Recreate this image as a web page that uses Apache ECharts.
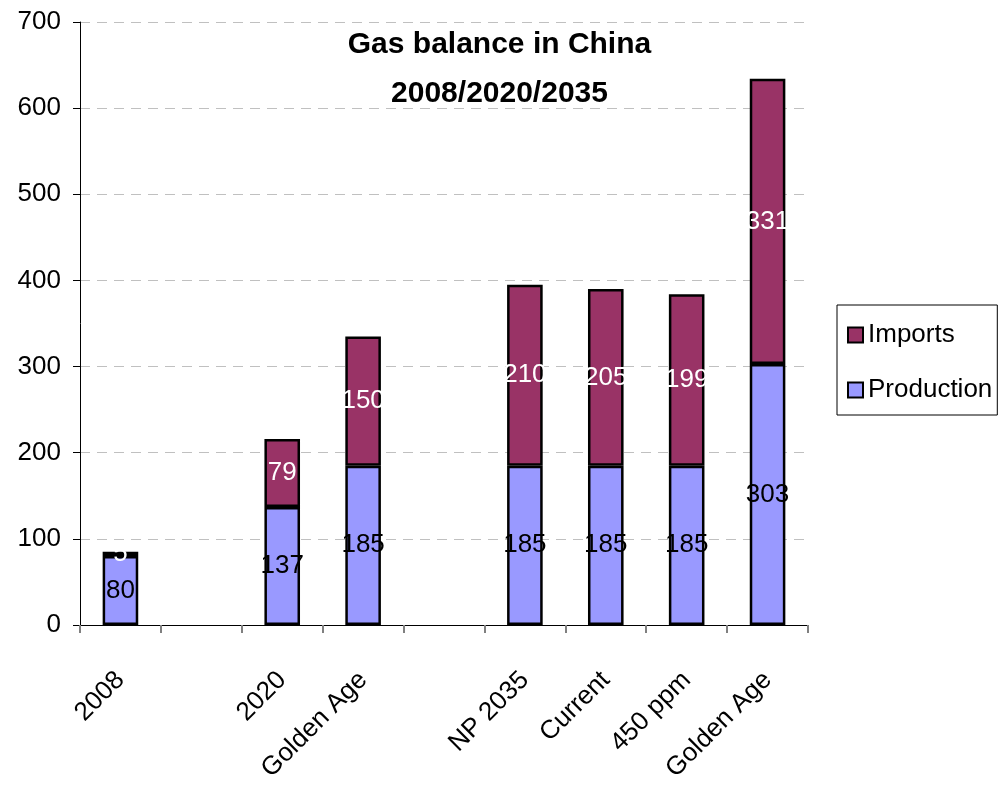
<!DOCTYPE html>
<html>
<head>
<meta charset="utf-8">
<script src="https://cdn.jsdelivr.net/npm/echarts@6/dist/echarts.min.js"></script>
<style>
  html, body { margin: 0; padding: 0; background: #fff; }
  #chart { width: 999px; height: 793px; }
</style>
</head>
<body>
<div id="chart"></div>
<script>
// Gas balance in China (bcm): production and imports by year / scenario
const categories = ['2008', '', '2020', 'Golden Age', '', 'NP 2035', 'Current', '450 ppm', 'Golden Age'];
const production = [80, '-', 137, 185, '-', 185, 185, 185, 303];
const imports = [5, '-', 79, 150, '-', 210, 205, 199, 331];
const yTicks = [0, 100, 200, 300, 400, 500, 600, 700];

const FONT = '"Liberation Sans", Arial, sans-serif';
const FS = 26;

const chart = echarts.init(document.getElementById('chart'), null, { renderer: 'canvas' });

chart.setOption({
  animation: false,
  backgroundColor: '#ffffff',
  title: {
    text: 'Gas balance in China\n2008/2020/2035',
    left: 'center',
    top: 15,
    textStyle: {
      fontFamily: FONT,
      fontWeight: 'bold',
      fontSize: 30,
      lineHeight: 49,
      color: '#000'
    }
  },
  legend: {
    orient: 'vertical',
    left: 837,
    top: 305,
    padding: [17, 5, 12, 10],
    itemGap: 29,
    itemWidth: 15,
    itemHeight: 15,
    icon: 'rect',
    borderColor: '#000',
    borderWidth: 1,
    data: ['Imports', 'Production'],
    textStyle: { fontFamily: FONT, fontSize: FS, color: '#000' }
  },
  grid: {
    left: 80,
    right: 191,
    top: 22,
    bottom: 168,
    containLabel: false
  },
  xAxis: {
    type: 'category',
    data: categories,
    axisLine: { show: true, lineStyle: { color: '#000', width: 1 } },
    axisTick: { show: true, alignWithLabel: false, length: 8, lineStyle: { color: '#808080', width: 2 } },
    axisLabel: {
      interval: 0,
      rotate: 45,
      margin: 51,
      fontFamily: FONT,
      fontSize: FS,
      color: '#000'
    },
    splitLine: { show: false }
  },
  yAxis: {
    type: 'value',
    min: yTicks[0],
    max: yTicks[yTicks.length - 1],
    interval: 100,
    axisLine: { show: true, lineStyle: { color: '#000', width: 1 } },
    axisTick: { show: true, length: 7, lineStyle: { color: '#000', width: 1 } },
    axisLabel: {
      margin: 19,
      fontFamily: FONT,
      fontSize: FS,
      color: '#000'
    },
    splitLine: {
      show: true,
      lineStyle: { color: '#c0c0c0', type: [10, 7], width: 1 }
    }
  },
  series: [
    {
      name: 'Production',
      type: 'bar',
      stack: 'gas',
      barWidth: '44%',
      data: production,
      itemStyle: { color: '#9999FF', borderColor: '#000', borderWidth: 2.5 },
      label: {
        show: true,
        position: 'inside',
        fontFamily: FONT,
        fontSize: FS,
        color: '#000'
      },
      z: 3
    },
    {
      name: 'Imports',
      type: 'bar',
      stack: 'gas',
      barWidth: '44%',
      data: imports,
      itemStyle: { color: '#993366', borderColor: '#000', borderWidth: 2.5 },
      label: {
        show: true,
        position: 'inside',
        fontFamily: FONT,
        fontSize: FS,
        color: '#fff'
      },
      z: 3
    }
  ]
});
</script>
</body>
</html>
